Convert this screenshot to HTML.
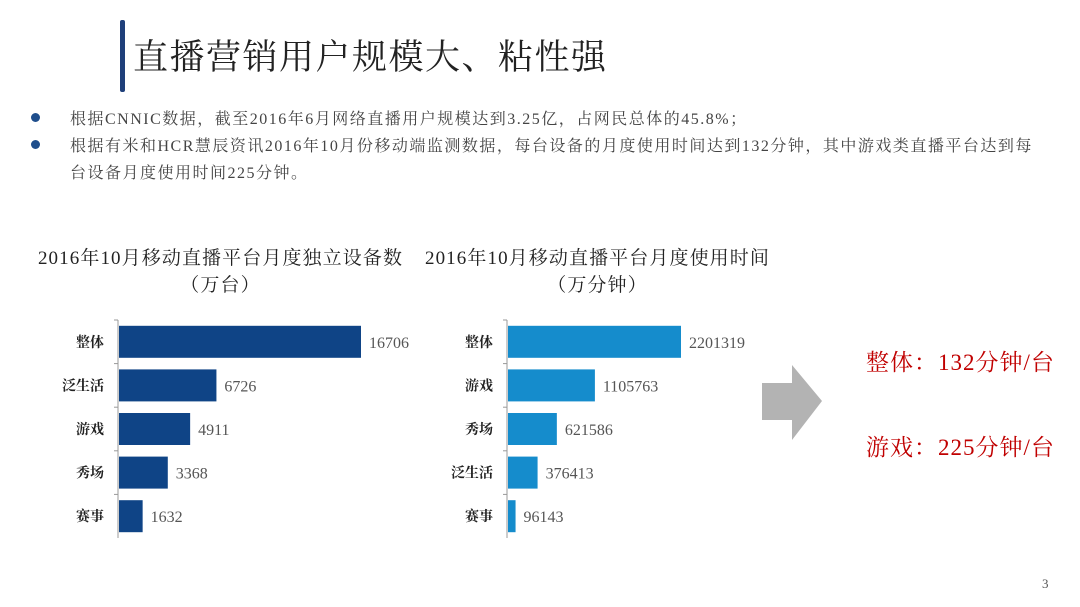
<!DOCTYPE html>
<html><head><meta charset="utf-8"><style>
body{margin:0;width:1080px;height:607px;background:#fff;position:relative;overflow:hidden;font-family:"Liberation Serif","Noto Serif CJK SC",serif;color:#333}
.abs{position:absolute;white-space:nowrap}
.b{font-size:16px;color:#444;letter-spacing:1.5px}
.dot{position:absolute;width:9px;height:9px;border-radius:50%;background:#1f4e8c}
</style></head><body>
<div class="abs" style="left:120px;top:20px;width:5px;height:72px;background:#1f3f7a;border-radius:2px"></div>
<div class="abs" style="left:133px;top:30px;font-size:35px;letter-spacing:1.5px;color:#222">直播营销用户规模大、粘性强</div>
<div class="dot" style="left:31px;top:113px"></div>
<div class="abs b" style="left:70px;top:106px">根据CNNIC数据，截至2016年6月网络直播用户规模达到3.25亿，占网民总体的45.8%；</div>
<div class="dot" style="left:31px;top:140px"></div>
<div class="abs b" style="left:70px;top:133px;line-height:27px">根据有米和HCR慧辰资讯2016年10月份移动端监测数据，每台设备的月度使用时间达到132分钟，其中游戏类直播平台达到每<br>台设备月度使用时间225分钟。</div>
<div class="abs" style="left:28px;top:245px;width:385px;text-align:center;font-size:19px;letter-spacing:1.1px;line-height:27px;color:#222">2016年10月移动直播平台月度独立设备数<br>（万台）</div>
<div class="abs" style="left:415px;top:245px;width:365px;text-align:center;font-size:19px;letter-spacing:1.1px;line-height:27px;color:#222">2016年10月移动直播平台月度使用时间<br>（万分钟）</div>
<svg class="abs" style="left:0;top:0" width="1080" height="607">
<g id="c1"></g><g id="c2"></g>
<polygon points="762,383 792,383 792,365 822,401 792,440 792,420 762,420" fill="#b3b3b3"/>
</svg>
<div class="abs" style="left:866px;top:344px;font-size:23px;letter-spacing:1px;color:#c00000">整体：132分钟/台</div>
<div class="abs" style="left:866px;top:429px;font-size:23px;letter-spacing:1px;color:#c00000">游戏：225分钟/台</div>
<div class="abs" style="left:1042px;top:576px;font-size:13px;color:#555">3</div>
<script>
const cats1=["整体","泛生活","游戏","秀场","赛事"];
const vals1=[16706,6726,4911,3368,1632];
const cats2=["整体","游戏","秀场","泛生活","赛事"];
const vals2=[2201319,1105763,621586,376413,96143];
const NS="http://www.w3.org/2000/svg";
function mk(t,a){const e=document.createElementNS(NS,t);for(const k in a)e.setAttribute(k,a[k]);return e;}
function draw(id,cats,vals,x0,maxW,color){
  const g=document.getElementById(id);
  const top=320,bottom=538,band=(bottom-top)/cats.length,max=Math.max(...vals);
  const sx=v=>v/max*maxW;
  const ax=mk("line",{x1:x0,y1:top,x2:x0,y2:bottom,stroke:"#999","stroke-width":1});
  
  
  g.appendChild(ax);
  cats.forEach((c,i)=>{
    const y=top+band*i;
    const tk=mk("line",{x1:x0-4,y1:y,x2:x0,y2:y,stroke:"#999"});
    
    
    g.appendChild(tk);
    const cy=y+band/2;
    const r=mk("rect",{x:x0+1,y:cy-16,width:sx(vals[i]),height:32,fill:color});
    
    
    g.appendChild(r);
    const l=mk("text",{x:x0-14,y:cy+5,"text-anchor":"end","font-size":"14","font-weight":"bold",fill:"#222"});
    l.textContent=c;
    
    
    g.appendChild(l);
    const v=mk("text",{x:x0+1+sx(vals[i])+8,y:cy+6,"font-size":"16",fill:"#555"});
    v.textContent=vals[i];
    
    
    g.appendChild(v);
  });
}
draw("c1",cats1,vals1,118,242,"#0f4486");
draw("c2",cats2,vals2,507,173,"#158ccc");
</script>
</body></html>
